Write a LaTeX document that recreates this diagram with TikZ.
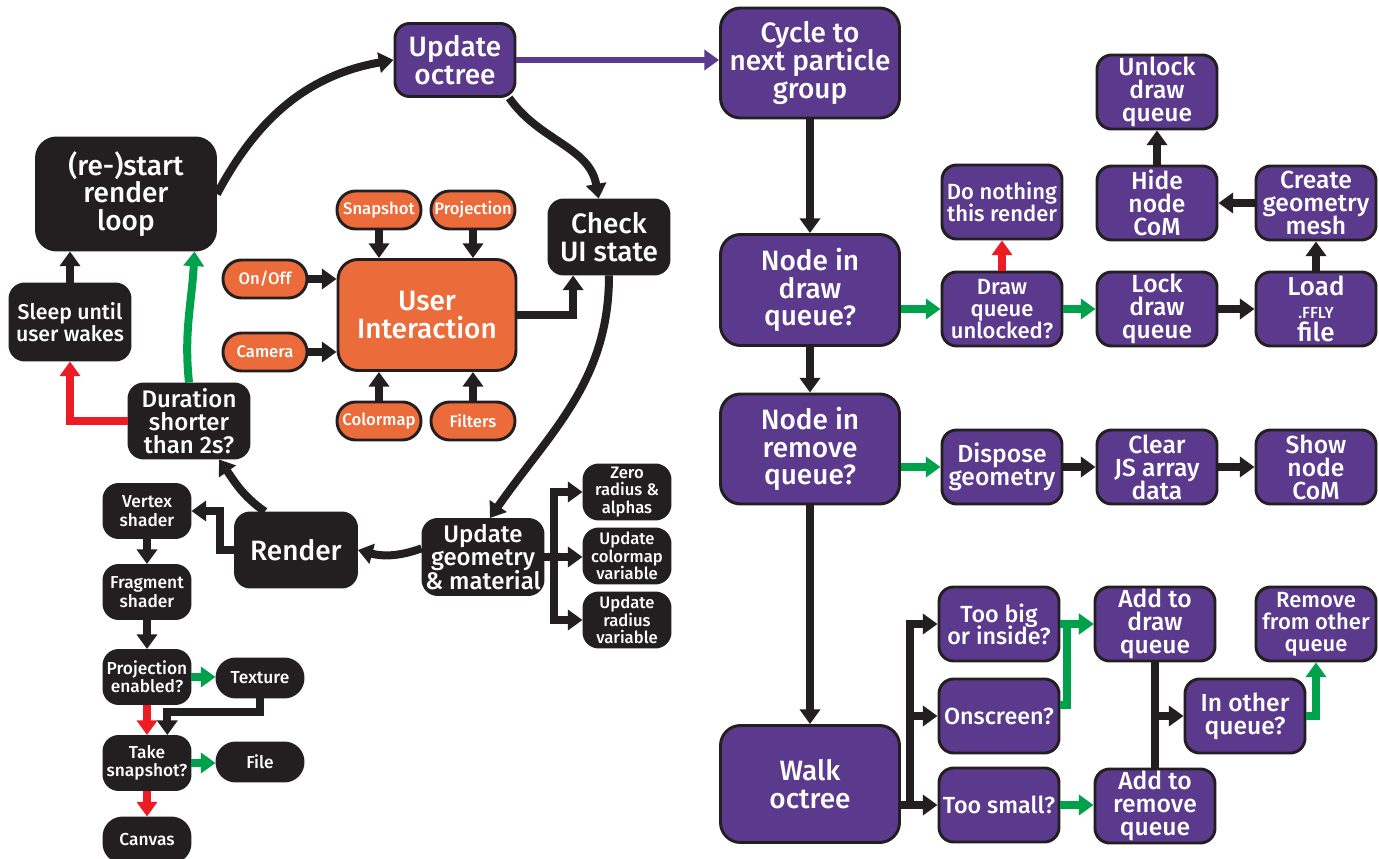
\documentclass[tikz,border=0pt]{standalone}
\usepackage{fontspec}
\IfFontExistsTF{Fira Sans Medium}{\setmainfont{Fira Sans}[BoldFont={Fira Sans Medium}]}{\setmainfont{Fira Sans}}
\usetikzlibrary{arrows.meta}
\definecolor{dk}{HTML}{231F20}
\definecolor{pu}{HTML}{5B3A8E}
\definecolor{orng}{HTML}{EC6B3B}
\definecolor{gr}{HTML}{00A14B}
\definecolor{rd}{HTML}{ED1C24}
\newcommand\fA{\bfseries\fontsize{21}{20.8}\selectfont}
\newcommand\fF{\bfseries\fontsize{18}{17.4}\selectfont}
\newcommand\fS{\bfseries\fontsize{16}{16.2}\selectfont}
\newcommand\fB{\bfseries\fontsize{18.5}{17.2}\selectfont}
\newcommand\fL{\bfseries\fontsize{19.5}{17.4}\selectfont}
\newcommand\fT{\bfseries\fontsize{17.5}{16.6}\selectfont}
\newcommand\fC{\bfseries\fontsize{16.5}{16.4}\selectfont}
\newcommand\fD{\bfseries\fontsize{13}{13.8}\selectfont}
\newcommand\fG{\bfseries\fontsize{12.5}{12.9}\selectfont}
\newcommand\fE{\bfseries\fontsize{12.5}{13}\selectfont}
\newcommand\fSm{\bfseries\fontsize{12}{13}\selectfont}
\tikzset{
  base/.style={draw=dk, line width=2.2pt, align=center, text=white, inner sep=0pt, rounded corners=11pt},
  pbox/.style={base, fill=pu},
  kbox/.style={base, fill=dk},
  obox/.style={base, fill=orng, rounded corners=14pt},
  bigr/.style={rounded corners=15pt},
  sz/.style 2 args={minimum width=#1*0.75pt, minimum height=#2*0.75pt},
  ar/.style={draw=dk, line width=6pt, -{Triangle[width=15pt,length=11pt]}},
  ag/.style={ar, draw=gr},
  arr/.style={ar, draw=rd},
  ap/.style={ar, draw=pu, line width=5pt},
  ln/.style={draw=dk, line width=6pt},
}
\begin{document}
\begin{tikzpicture}[x=0.75pt,y=0.75pt]
\lineskiplimit=-40pt
\useasboundingbox (0,0) rectangle (1379,858);
\fill[white] (0,0) rectangle (1379,858);
% ---------- left part
\node[pbox, sz={120}{73}, font=\fA] (uo) at (455,858-60) {Update\\octree};
\node[kbox, bigr, sz={179}{112}, font=\fA] (rs) at (126,858-194) {(re-)start\\render\\loop};
\node[kbox, sz={120}{76}, font=\fS] (sl) at (70,858-322) {Sleep until\\user wakes};
\node[kbox, sz={120}{74}, font=\fF] (du) at (189,858-421) {Duration\\shorter\\than 2s?};
\node[kbox, sz={120}{74}, font=\fA] (cu) at (609,858-237) {Check\\UI state};
\node[obox, rounded corners=15pt, sz={178}{111}, font=\fA] (ui) at (427,858-315) {User\\Interaction};
\node[obox, sz={84}{38}, font=\fE] (sn) at (379,858-210) {Snapshot};
\node[obox, sz={84}{38}, font=\fE] (pj) at (473,858-210) {Projection};
\node[obox, sz={84}{38}, font=\fE] (on) at (265,858-279) {On/Off};
\node[obox, sz={84}{38}, font=\fE] (ca) at (265,858-352) {Camera};
\node[obox, sz={84}{38}, font=\fE] (cm) at (379,858-421) {Colormap};
\node[obox, sz={84}{38}, font=\fE] (fi) at (473,858-421) {Filters};
\node[kbox, sz={121}{74}, font=\fA] (re) at (296,858-550) {Render};
\node[kbox, sz={120}{75}, font=\fF] (ug) at (483,858-557) {Update\\geometry\\\& material};
\node[kbox, sz={86}{54}, font=\fG] (zr) at (627,858-492) {Zero\\radius \&\\alphas};
\node[kbox, sz={86}{54}, font=\fG] (uc) at (627,858-556) {Update\\colormap\\variable};
\node[kbox, sz={86}{54}, font=\fG] (ur) at (627,858-620) {Update\\radius\\variable};
\node[kbox, sz={86}{53}, font=\fD] (vs) at (147,858-511) {Vertex\\shader};
\node[kbox, sz={86}{53}, font=\fD] (fs) at (147,858-592) {Fragment\\shader};
\node[kbox, sz={86}{53}, font=\fD] (pe) at (147,858-677) {Projection\\enabled?};
\node[kbox, rounded corners=14pt, sz={86}{38}, font=\fD] (tx) at (260,858-678) {Texture};
\node[kbox, sz={86}{53}, font=\fD] (ts) at (147,858-763) {Take\\snapshot?};
\node[kbox, rounded corners=14pt, sz={86}{38}, font=\fD] (fl) at (260,858-762) {File};
\node[kbox, rounded corners=14pt, sz={86}{44}, font=\fD] (cv) at (147,858-840) {Canvas};
% ---------- right part
\node[pbox, bigr, sz={179}{110}, font=\fA] (cy) at (810,858-63) {Cycle to\\next particle\\group};
\node[pbox, bigr, sz={179}{111}, font=\fA] (nd) at (810,858-290) {Node in\\draw\\queue?};
\node[pbox, bigr, sz={179}{110}, font=\fA] (nr) at (810,858-449) {Node in\\remove\\queue?};
\node[pbox, bigr, sz={179}{117}, font=\fA] (wo) at (810,858-784) {Walk\\octree};
\node[pbox, sz={120}{74}, font=\fC] (dn) at (1002,858-202) {Do nothing\\this render};
\node[pbox, sz={120}{74}, font=\fC] (dq) at (1002,858-309) {Draw\\queue\\unlocked?};
\node[pbox, sz={120}{74}, font=\fB] (lk) at (1157,858-309) {Lock\\draw\\queue};
\node[pbox, sz={120}{74}, font=\fL] (ld) at (1316,858-309) {Load\\{\fSm .FFLY}\\file};
\node[pbox, sz={120}{74}, font=\fB] (ul) at (1157,858-92) {Unlock\\draw\\queue};
\node[pbox, sz={120}{74}, font=\fB] (hd) at (1157,858-203) {Hide\\node\\CoM};
\node[pbox, sz={120}{74}, font=\fB] (cg) at (1316,858-203) {Create\\geometry\\mesh};
\node[pbox, sz={120}{74}, font=\fB] (dg) at (1002,858-467) {Dispose\\geometry};
\node[pbox, sz={120}{74}, font=\fB] (cj) at (1157,858-467) {Clear\\JS array\\data};
\node[pbox, sz={120}{74}, font=\fB] (sc) at (1316,858-467) {Show\\node\\CoM};
\node[pbox, sz={120}{74}, font=\fT] (tb) at (999,858-624) {Too big\\or inside?};
\node[pbox, sz={120}{74}, font=\fT] (os) at (999,858-716) {Onscreen?};
\node[pbox, sz={120}{74}, font=\fT] (tsm) at (999,858-805) {Too small?};
\node[pbox, sz={120}{74}, font=\fB] (ad) at (1155,858-624) {Add to\\draw\\queue};
\node[pbox, sz={120}{74}, font=\fB] (arq) at (1155,858-806) {Add to\\remove\\queue};
\node[pbox, sz={120}{74}, font=\fB] (io) at (1245,858-716) {In other\\queue?};
\node[pbox, sz={120}{74}, font=\fC] (rf) at (1316,858-624) {Remove\\from other\\queue};
% ---------- connectors, left
\draw[ar] (rs.east) to[out=62, in=190] (uo.west);
\draw[ar] (uo.-35) to[out=-55, in=100] (cu.105);
\draw[ar] (cu.south) to[out=-90, in=55] (ug.80);
\draw[ar] (ug.172) to[out=200, in=-15] (re.east);
\draw[ar] (re.129) to[out=145, in=-55] (du.-52);
\draw[ar] (re.west) -- ++(-14,0) |- (vs.east);
\draw[ar] (ui.east) -| (cu.-133);
\draw[ar] (sn.south) -- (sn.south |- ui.north);
\draw[ar] (pj.south) -- (pj.south |- ui.north);
\draw[ar] (cm.north) -- (cm.north |- ui.south);
\draw[ar] (fi.north) -- (fi.north |- ui.south);
\draw[ar] (on.east) -- (on.east -| ui.west);
\draw[ar] (ca.east) -- (ca.east -| ui.west);
\draw[ar] (sl.north) -- (sl.north |- rs.south);
\draw[arr] (du.west) -| (sl.south);
\draw[ag] (du.north) to[out=96, in=-93] (rs.-40);
\draw[ar] (vs) -- (fs);
\draw[ar] (fs) -- (pe);
\draw[ag] (pe.east) -- (pe.east -| tx.west);
\draw[arr] (pe) -- (ts);
\draw[ar] (tx.south) -- ++(0,-14) -| (ts.54);
\draw[ag] (ts.east) -- (ts.east -| fl.west);
\draw[arr] (ts) -- (cv);
\draw[ar] (ug.east) -- ++(10,0) coordinate (bk) |- (zr.west);
\draw[ar] (bk) |- (ur.west);
\draw[ar] (bk) -- (bk -| uc.west);
% ---------- connectors, right
\draw[ap] (uo.east) -- (uo.east -| cy.west);
\draw[ar] (cy) -- (nd);
\draw[ar] (nd) -- (nr);
\draw[ar] (nr) -- (wo);
\draw[ag] (nd.east |- dq.west) -- (dq.west);
\draw[ag] (dq) -- (lk);
\draw[ar] (lk) -- (ld);
\draw[arr] (dq) -- (dn);
\draw[ar] (ld) -- (cg);
\draw[ar] (cg) -- (hd);
\draw[ar] (hd) -- (ul);
\draw[ag] (nr.east |- dg.west) -- (dg.west);
\draw[ar] (dg) -- (cj);
\draw[ar] (cj) -- (sc);
\draw[ar] (wo.east |- tsm.west) -- (tsm.west);
\draw[ar] (wo.east |- tsm.west) -- ++(9,0) coordinate (wb) |- (tb.west);
\draw[ar] (wb) |- (os.west);
\draw[ag] (os.10) -- ++(7,0) |- (ad.west);
\draw[ag] (tb) -- (ad);
\draw[ag] (tsm.east) -- (tsm.east -| arq.west);
\draw[ln] (ad) -- (arq);
\draw[ar] (ad.south |- io.west) -- (io.west);
\draw[ag] (io.east) -| (rf.south);
\end{tikzpicture}
\end{document}
